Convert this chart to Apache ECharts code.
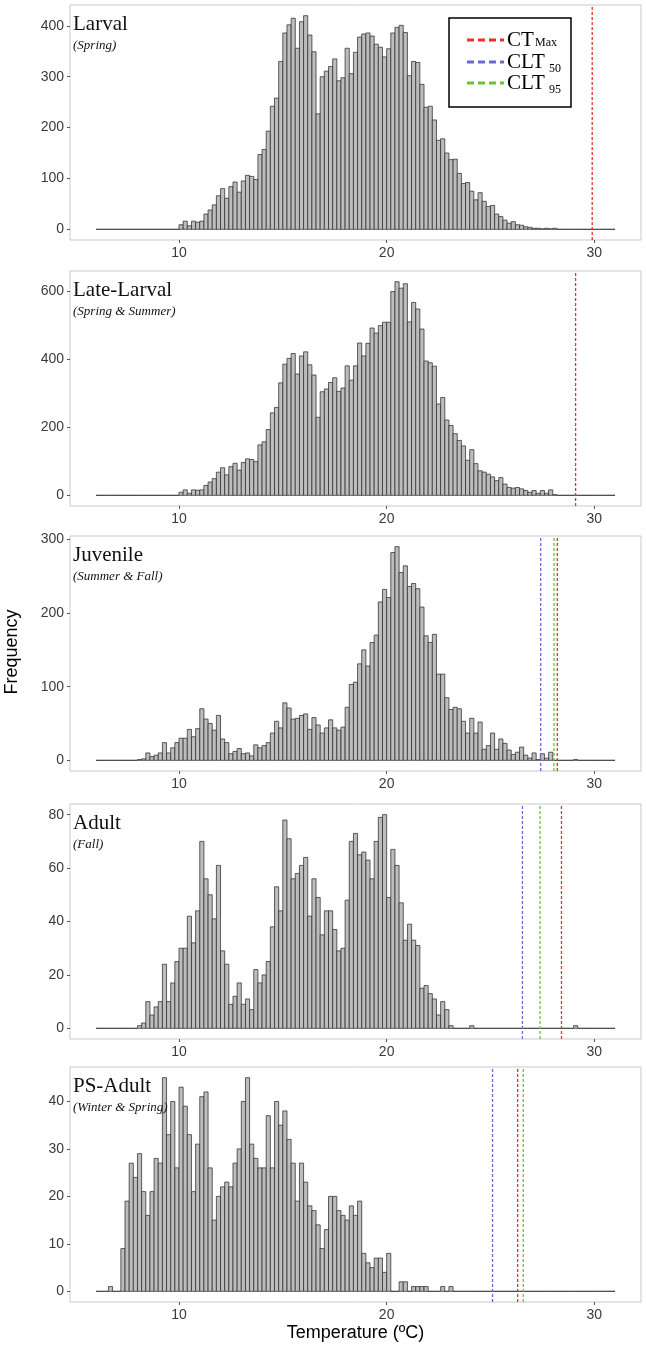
<!DOCTYPE html>
<html><head><meta charset="utf-8">
<script src="https://cdn.jsdelivr.net/npm/echarts@6/dist/echarts.min.js"></script>
<style>html,body{margin:0;padding:0;background:#fff}#chart{width:646px;height:1349px}</style>
</head><body><div id="chart"></div>
<script>
// ---- data ----
const BIN_START = 6.0;      // first histogram bin edge (ºC)
const BIN_END = 31.0;       // last histogram bin edge (ºC)
const BIN_WIDTH = 0.2;      // bin width (ºC)

const panelNames = ['Larval', 'Late-Larval', 'Juvenile', 'Adult', 'PS-Adult'];
const panelSeasons = ['(Spring)', '(Spring & Summer)', '(Summer & Fall)', '(Fall)', '(Winter & Spring)'];

// counts start at the given bin edge; bins outside are 0
const larvalFirstBin = 10.0;
const larvalCounts = [
  9, 16, 7, 16, 14, 16, 30, 38, 48, 66,
  80, 61, 84, 93, 73, 95, 106, 104, 98, 147,
  157, 193, 242, 258, 330, 386, 402, 415, 356, 408,
  420, 382, 349, 227, 300, 311, 320, 335, 292, 298,
  356, 306, 348, 378, 384, 386, 380, 364, 358, 339,
  355, 386, 397, 401, 387, 302, 330, 328, 285, 240,
  242, 215, 175, 178, 150, 137, 138, 110, 90, 92,
  75, 58, 72, 55, 45, 47, 30, 25, 18, 12,
  15, 9, 8, 5, 4, 2, 2, 1, 2, 1, 2
];

const lateLarvalFirstBin = 10.0;
const lateLarvalCounts = [
  9, 16, 6, 16, 15, 16, 29, 39, 49, 68,
  81, 60, 84, 94, 74, 96, 107, 105, 99, 148,
  157, 193, 242, 258, 330, 385, 402, 416, 356, 409,
  421, 383, 353, 229, 304, 312, 331, 345, 305, 315,
  380, 338, 380, 447, 409, 446, 491, 476, 498, 508,
  508, 598, 627, 608, 621, 509, 566, 547, 488, 394,
  389, 379, 268, 287, 221, 205, 181, 161, 145, 103,
  134, 93, 72, 68, 62, 54, 43, 52, 33, 23,
  21, 23, 19, 14, 9, 14, 6, 14, 6, 16, 2
];

const juvenileFirstBin = 8.0;
const juvenileCounts = [
  1, 2, 10, 5, 7, 10, 24, 10, 17, 24,
  30, 30, 42, 32, 43, 70, 56, 50, 41, 61,
  29, 24, 9, 12, 16, 9, 10, 6, 21, 17,
  20, 24, 37, 53, 44, 78, 71, 56, 57, 61,
  63, 42, 58, 48, 37, 44, 55, 44, 41, 45,
  72, 103, 106, 131, 150, 128, 160, 170, 215, 232,
  221, 282, 290, 255, 264, 236, 240, 233, 208, 169,
  160, 171, 117, 117, 85, 69, 72, 70, 53, 37,
  57, 37, 52, 15, 20, 37, 15, 29, 23, 14,
  8, 11, 18, 7, 3, 10, 1, 9, 3, 11,
  0, 0, 0, 0, 0, 1
];

const adultFirstBin = 8.0;
const adultCounts = [
  1, 2, 10, 5, 8, 10, 24, 10, 17, 25,
  30, 30, 42, 32, 44, 70, 56, 50, 41, 61,
  29, 24, 9, 12, 17, 9, 11, 7, 22, 17,
  20, 25, 38, 53, 44, 78, 71, 56, 58, 61,
  64, 42, 56, 49, 35, 44, 44, 37, 29, 30,
  48, 70, 73, 65, 66, 63, 56, 70, 79, 80,
  49, 67, 61, 47, 33, 39, 33, 31, 15, 16,
  13, 11, 5, 10, 7, 1, 0, 0, 0, 0,
  1, 0, 0, 0, 0, 0, 0, 0, 0, 0,
  0, 0, 0, 0, 0, 0, 0, 0, 0, 0,
  0, 0, 0, 0, 0, 1
];

const psAdultFirstBin = 6.6;
const psAdultCounts = [
  1, 0, 0,
  9, 19, 27, 24,
  29, 21, 16, 21, 28, 27, 45, 33, 40, 26,
  43, 39, 33, 21, 31, 41, 42, 26, 15, 20,
  22, 23, 22, 27, 30, 40, 45, 31, 28, 26,
  26, 37, 26, 40, 35, 38, 32, 27, 19, 27,
  23, 18, 17, 14, 9, 13, 20, 20, 17, 16,
  15, 18, 16, 19, 8, 6, 5, 7, 7, 4,
  8, 0, 0, 2, 2, 0, 1, 1, 1, 1,
  0, 0, 0, 1, 0, 1
];

const firstBins = [larvalFirstBin, lateLarvalFirstBin, juvenileFirstBin, adultFirstBin, psAdultFirstBin];
const panelCounts = [larvalCounts, lateLarvalCounts, juvenileCounts, adultCounts, psAdultCounts];

const xTicks = [10, 20, 30];
const yTicks = [
  [0, 100, 200, 300, 400],
  [0, 200, 400, 600],
  [0, 100, 200, 300],
  [0, 20, 40, 60, 80],
  [0, 10, 20, 30, 40]
];

// threshold temperatures (ºC); null = not shown
const ctMax = [29.9, 29.1, 28.22, 28.42, 26.31];
const clt50 = [null, null, 27.42, 26.54, 25.1];
const clt95 = [null, null, 28.06, 27.39, 26.58];

// ---- layout / style ----
const COL_RED = '#ec2f28', COL_BLUE = '#6a6ad4', COL_GREEN = '#6cc235';
const panelTops = [5, 271, 536, 804, 1067];
const PANEL_H = 235, GRID_LEFT = 70, GRID_RIGHT = 5;
const SANS = '"Liberation Sans", Arial, sans-serif';
const SERIF = '"Liberation Serif", "Times New Roman", serif';

const nBins = Math.round((BIN_END - BIN_START) / BIN_WIDTH);
const xPad = (BIN_END - BIN_START) * 0.05;

function binsFor(p) {
  const off = Math.round((firstBins[p] - BIN_START) / BIN_WIDTH);
  const c = panelCounts[p];
  const out = [];
  for (let k = 0; k < nBins; k++) {
    const x0 = +(BIN_START + k * BIN_WIDTH).toFixed(2);
    const x1 = +(x0 + BIN_WIDTH).toFixed(2);
    const j = k - off;
    const v = (j >= 0 && j < c.length) ? c[j] : 0;
    out.push([x0, x1, v]);
  }
  return out;
}

function renderBar(params, api) {
  const a = api.coord([api.value(0), 0]);
  const b = api.coord([api.value(1), api.value(2)]);
  return {
    type: 'rect',
    shape: { x: a[0], y: b[1], width: b[0] - a[0], height: a[1] - b[1] },
    style: { fill: '#bdbdbd', stroke: '#2e2e2e', lineWidth: 0.75 }
  };
}

const grids = [], xAxes = [], yAxes = [], series = [], graphics = [];
for (let p = 0; p < 5; p++) {
  const maxV = Math.max(...panelCounts[p]);
  const yMin = -0.05 * maxV, yMax = 1.05 * maxV;
  grids.push({ left: GRID_LEFT, right: GRID_RIGHT, top: panelTops[p], height: PANEL_H,
    show: true, borderColor: '#c9c9c9', borderWidth: 1, backgroundColor: '#fff' });
  xAxes.push({ type: 'value', gridIndex: p, min: BIN_START - xPad, max: BIN_END + xPad,
    axisLine: { show: false, onZero: false },
    axisTick: { show: true, length: 3, lineStyle: { color: '#555' }, customValues: xTicks },
    axisLabel: { show: true, customValues: xTicks, fontFamily: SANS, fontSize: 14, color: '#3a3a3a', margin: 6 },
    splitLine: { show: false } });
  yAxes.push({ type: 'value', gridIndex: p, min: yMin, max: yMax,
    axisLine: { show: false, onZero: false },
    axisTick: { show: true, length: 3, lineStyle: { color: '#555' }, customValues: yTicks[p] },
    axisLabel: { show: true, customValues: yTicks[p], fontFamily: SANS, fontSize: 14, color: '#3a3a3a', margin: 6 },
    splitLine: { show: false } });
  series.push({ type: 'custom', xAxisIndex: p, yAxisIndex: p, renderItem: renderBar,
    encode: { x: [0, 1], y: 2 }, data: binsFor(p), silent: true, clip: true });
  const vlines = [[clt50[p], COL_BLUE], [clt95[p], COL_GREEN], [ctMax[p], COL_RED]];
  vlines.forEach(([v, col]) => {
    if (v == null) return;
    series.push({ type: 'line', xAxisIndex: p, yAxisIndex: p, symbol: 'none', silent: true,
      color: col, itemStyle: { color: col },
      data: [[v, yMin], [v, yMax]], lineStyle: { color: col, width: 1.3, type: [3, 2] }, z: 5 });
  });
  graphics.push({ type: 'text', x: 73, y: panelTops[p] + 19.5, z: 100,
    style: { text: panelNames[p], font: '21px ' + SERIF, fill: '#111', verticalAlign: 'middle' } });
  graphics.push({ type: 'text', x: 73, y: panelTops[p] + 40.5, z: 100,
    style: { text: panelSeasons[p], font: 'italic 13px ' + SERIF, fill: '#111', verticalAlign: 'middle' } });
}

// legend box
graphics.push({ type: 'rect', shape: { x: 449, y: 18, width: 122, height: 89 },
  style: { fill: '#fff', stroke: '#000', lineWidth: 1.5 }, z: 100 });
const legendRows = [
  { y: 40, col: COL_RED, main: 'CT', sub: 'Max', subDy: 3, subX: 535 },
  { y: 62, col: COL_BLUE, main: 'CLT', sub: '50', subDy: 7, subX: 549 },
  { y: 83, col: COL_GREEN, main: 'CLT', sub: '95', subDy: 7, subX: 549 }
];
legendRows.forEach(r => {
  graphics.push({ type: 'line', shape: { x1: 467, y1: r.y, x2: 504, y2: r.y },
    style: { stroke: r.col, lineWidth: 3, lineDash: [7, 4] }, z: 101 });
  graphics.push({ type: 'text', x: 507, y: r.y, z: 101,
    style: { text: r.main, font: '21px ' + SERIF, fill: '#000', verticalAlign: 'middle' } });
  graphics.push({ type: 'text', x: r.subX, y: r.y + r.subDy, z: 101,
    style: { text: r.sub, font: '12px ' + SERIF, fill: '#000', verticalAlign: 'middle' } });
});

// axis titles
graphics.push({ type: 'text', x: 12, y: 652, rotation: Math.PI / 2, z: 100,
  style: { text: 'Frequency', font: '18px ' + SANS, fill: '#000', align: 'center', verticalAlign: 'middle' } });
graphics.push({ type: 'text', x: 355.5, y: 1333, z: 100,
  style: { text: 'Temperature (ºC)', font: '18px ' + SANS, fill: '#000', align: 'center', verticalAlign: 'middle' } });

const chart = echarts.init(document.getElementById('chart'), null, { renderer: 'canvas' });
chart.setOption({
  animation: false,
  backgroundColor: '#fff',
  grid: grids, xAxis: xAxes, yAxis: yAxes, series: series,
  graphic: graphics
});
</script></body></html>
